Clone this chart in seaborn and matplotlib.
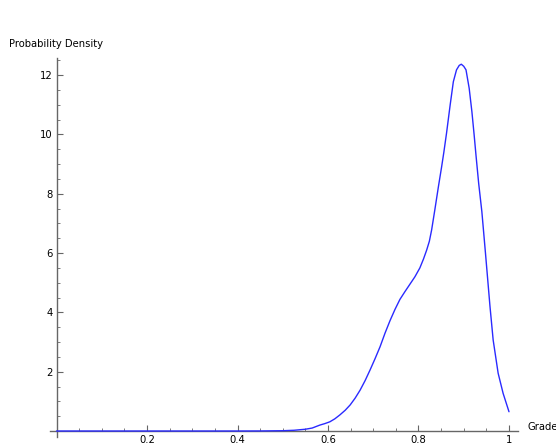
import numpy as np
import pandas as pd
import matplotlib
matplotlib.use("Agg")
import matplotlib.pyplot as plt
from matplotlib.ticker import MultipleLocator, FixedLocator
import seaborn as sns

# Estimated probability density of grades
grade = [0.0, 0.1, 0.2, 0.3, 0.4, 0.45, 0.5, 0.525, 0.55, 0.565, 0.582,
         0.593, 0.604, 0.615, 0.626, 0.638, 0.649, 0.66, 0.671, 0.682,
         0.693, 0.704, 0.715, 0.726, 0.737, 0.748, 0.759, 0.77, 0.781,
         0.792, 0.803, 0.811, 0.818, 0.824, 0.829, 0.836, 0.844, 0.851,
         0.856, 0.862, 0.870, 0.877, 0.884, 0.890, 0.8946, 0.900, 0.905,
         0.912, 0.918, 0.923, 0.927, 0.933, 0.940, 0.948, 0.958, 0.965,
         0.976, 0.987, 1.0]
density = [0.0, 0.0, 0.0, 0.0, 0.0, 0.002, 0.01, 0.025, 0.06, 0.1, 0.2,
           0.25, 0.31, 0.41, 0.54, 0.7, 0.88, 1.11, 1.38, 1.7,
           2.06, 2.44, 2.84, 3.3, 3.72, 4.1, 4.44, 4.7, 4.95,
           5.2, 5.5, 5.8, 6.1, 6.4, 6.78, 7.45, 8.24, 8.9,
           9.4, 10.05, 11.0, 11.78, 12.18, 12.33, 12.37, 12.3, 12.18,
           11.56, 10.77, 9.98, 9.31, 8.35, 7.4, 6.0, 4.2, 3.07,
           1.95, 1.27, 0.65]

x_major = [0.2, 0.4, 0.6, 0.8, 1.0]
x_labels = ["0.2", "0.4", "0.6", "0.8", "1"]
y_major = [2, 4, 6, 8, 10, 12]

df = pd.DataFrame({"Grade": grade, "Density": density})

sns.set_style("white")
plt.rcParams["font.family"] = ["DejaVu Sans"]
plt.rcParams["text.color"] = "black"

W, H = 556, 445
fig = plt.figure(figsize=(W / 100, H / 100), dpi=100)
ax = fig.add_axes([50 / W, (H - 437) / H, 468 / W, 379 / H])

sns.lineplot(data=df, x="Grade", y="Density", ax=ax, color="#2a2aff",
             linewidth=1.0, zorder=3)

ax.set_xlim(-0.0144, 1.0199)
ax.set_ylim(-0.202, 12.58)

axis_col = "#666666"
for side in ("top", "right"):
    ax.spines[side].set_visible(False)
for side in ("left", "bottom"):
    ax.spines[side].set_position(("data", 0))
    ax.spines[side].set_color(axis_col)
    ax.spines[side].set_linewidth(1.0)

ax.xaxis.set_major_locator(FixedLocator(x_major))
ax.set_xticklabels(x_labels)
ax.xaxis.set_minor_locator(MultipleLocator(0.05))
ax.yaxis.set_major_locator(FixedLocator(y_major))
ax.yaxis.set_minor_locator(MultipleLocator(0.5))

ax.tick_params(which="major", direction="in", length=4, width=0.8,
               color=axis_col, labelsize=7.2, labelcolor="black", pad=3)
ax.tick_params(which="minor", direction="in", length=2.5, width=0.6,
               color=axis_col)
ax.tick_params(axis="x", which="both", bottom=True)
ax.tick_params(axis="y", which="both", left=True)

ax.set_xlabel("")
ax.set_ylabel("")

fig.text(9 / W, 1 - 44 / H, "Probability Density", fontsize=7.2,
         color="black", ha="left", va="center")
fig.text(527 / W, 1 - 427 / H, "Grade", fontsize=7.2, color="black",
         ha="left", va="center")

fig.savefig("out.png", dpi=100, facecolor="white")
